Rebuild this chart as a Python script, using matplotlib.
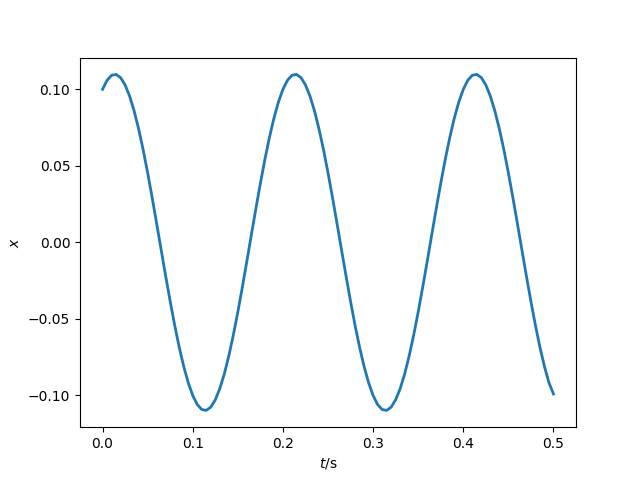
import matplotlib
matplotlib.use("Agg")
import matplotlib.pyplot as plt

t_values = [round(0.005 * k, 3) for k in range(101)]

x_values = [
    0.10000, 0.10589, 0.10917, 0.10976, 0.10765, 0.10288, 0.09559, 0.08594, 0.07418, 0.06058,
    0.04550, 0.02930, 0.01237, -0.00486, -0.02197, -0.03854, -0.05416, -0.06844, -0.08105, -0.09165,
    -0.10000, -0.10589, -0.10917, -0.10976, -0.10765, -0.10288, -0.09559, -0.08594, -0.07418, -0.06058,
    -0.04550, -0.02930, -0.01237, 0.00486, 0.02197, 0.03854, 0.05416, 0.06844, 0.08105, 0.09165,
    0.10000, 0.10589, 0.10917, 0.10976, 0.10765, 0.10288, 0.09559, 0.08594, 0.07418, 0.06058,
    0.04550, 0.02930, 0.01237, -0.00486, -0.02197, -0.03854, -0.05416, -0.06844, -0.08105, -0.09165,
    -0.10000, -0.10589, -0.10917, -0.10976, -0.10765, -0.10288, -0.09559, -0.08594, -0.07418, -0.06058,
    -0.04550, -0.02930, -0.01237, 0.00486, 0.02197, 0.03854, 0.05416, 0.06844, 0.08105, 0.09165,
    0.10000, 0.10589, 0.10917, 0.10976, 0.10765, 0.10288, 0.09559, 0.08594, 0.07418, 0.06058,
    0.04550, 0.02930, 0.01237, -0.00486, -0.02197, -0.03854, -0.05416, -0.06844, -0.08105, -0.09165,
    -0.09900,
]

fig, ax = plt.subplots(figsize=(6.4, 4.8), dpi=100)
ax.plot(t_values, x_values, color="#1f77b4", linewidth=2)
ax.set_xlabel("$t$/s")
ax.set_ylabel("$x$")
fig.savefig("out.png")
